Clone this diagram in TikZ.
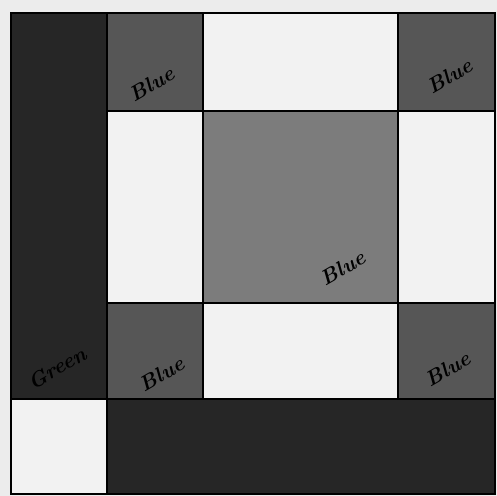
\documentclass[tikz,border=0pt]{standalone}
\usepackage{tikz}
\tikzset{ >=latex }
\definecolor{paper}{RGB}{236,236,236}
\definecolor{inkDark}{RGB}{38,38,38}
\definecolor{inkBlue}{RGB}{86,86,86}
\definecolor{inkMid}{RGB}{124,124,124}
\definecolor{inkWhite}{RGB}{242,242,242}
\tikzset{
  patch/.style={draw=black, line width=0.6pt},
  darkpatch/.style={patch, fill=inkDark},
  bluepatch/.style={patch, fill=inkBlue},
  midpatch/.style={patch, fill=inkMid},
  whitepatch/.style={patch, fill=inkWhite},
  scrawl/.style={font=\large\itshape\bfseries, text=black, rotate=30, inner sep=0pt}
}
% grid lines of the block (pixels of the scan)
\def\xA{11}  \def\xB{107} \def\xC{203} \def\xD{398} \def\xE{495}
\def\yA{13}  \def\yB{111} \def\yC{303} \def\yD{399} \def\yE{494}
\begin{document}
\begin{tikzpicture}[x=0.02cm, y=-0.02cm]
    % Paper and frame
    \useasboundingbox[fill=paper] (0,0) rectangle (497,496);
    % Dark column on the left and dark strip at the bottom
    \filldraw[darkpatch] (\xA,\yA) rectangle (\xB,\yD);
    \filldraw[darkpatch] (\xB,\yD) rectangle (\xE,\yE);
    \filldraw[whitepatch] (\xA,\yD) rectangle (\xB,\yE);
    % Corner squares
    \foreach \xa/\xb in {\xB/\xC, \xD/\xE}
        \foreach \ya/\yb in {\yA/\yB, \yC/\yD}
            { \filldraw[bluepatch] (\xa,\ya) rectangle (\xb,\yb); }
    % White bars round the centre
    \filldraw[whitepatch] (\xC,\yA) rectangle (\xD,\yB);   % top
    \filldraw[whitepatch] (\xC,\yC) rectangle (\xD,\yD);   % bottom
    \filldraw[whitepatch] (\xB,\yB) rectangle (\xC,\yC);   % left
    \filldraw[whitepatch] (\xD,\yB) rectangle (\xE,\yC);   % right
    % Centre square
    \filldraw[midpatch] (\xC,\yB) rectangle (\xD,\yC);
    % Outer frame
    \draw[line width=0.8pt] (\xA,\yA) rectangle (\xE,\yE);
    % Hand written colour notes
    \node[scrawl] (blueTL) at (152,84)  {Blue};
    \node[scrawl] (blueTR) at (450,76)  {Blue};
    \node[scrawl] (blueC)  at (343,268) {Blue};
    \node[scrawl] (blueBL) at (162,374) {Blue};
    \node[scrawl] (blueBR) at (448,369) {Blue};
    \node[scrawl] (green)  at (57,368)  {Green};
\end{tikzpicture}
\end{document}
